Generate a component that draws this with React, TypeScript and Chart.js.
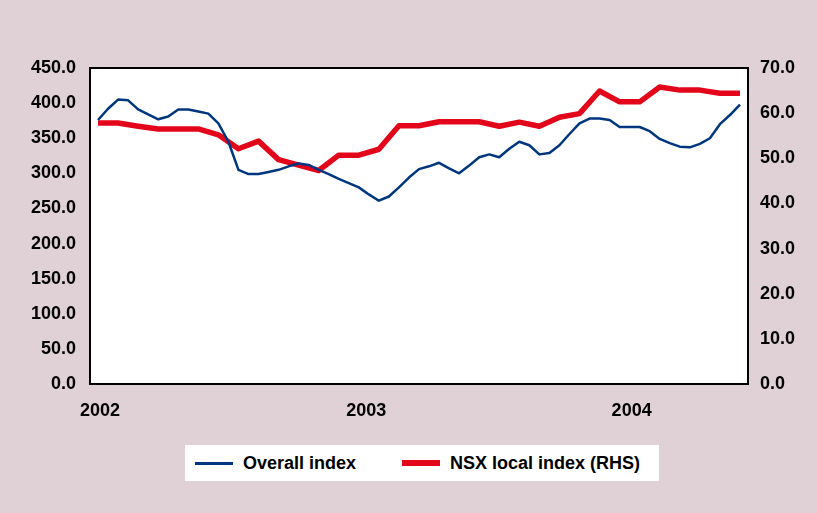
import React, { useEffect, useRef } from "react";
import { Chart, registerables } from "chart.js";

Chart.register(...registerables);

// Overall index (LHS), sampled every 2 weeks
const overallIndex = [
  376, 392, 405, 404, 391, 384, 377, 381, 391, 391,
  388, 385, 371, 345, 305, 299, 299, 302, 305, 310,
  314, 312, 305, 299, 292, 286, 280, 270, 261, 267,
  280, 294, 306, 310, 315, 307, 300, 311, 323, 327,
  323, 335, 345, 340, 327, 329, 340, 356, 371, 378,
  378, 376, 366, 366, 366, 360, 349, 343, 338, 337,
  342, 350, 370, 383, 398,
];
const overallStepWeeks = 2;

// NSX local index (RHS), sampled every 4 weeks
const nsxLocalIndex = [
  57.8, 57.8, 57.1, 56.5, 56.5, 56.5, 55.2, 52.1, 53.8, 49.7,
  48.5, 47.3, 50.7, 50.7, 52.0, 57.2, 57.2, 58.1, 58.1, 58.1,
  57.1, 58.0, 57.1, 59.1, 59.9, 64.9, 62.5, 62.5, 65.8, 65.1,
  65.1, 64.4, 64.4,
];
const nsxStepWeeks = 4;

const yearLabels = ["2002", "2003", "2004"];
const yearTickWeeks = [0.4, 53.5, 106.4];

const leftTicks = { min: 0, max: 450, step: 50 };
const rightTicks = { min: 0, max: 70, step: 10 };

const seriesNames = ["Overall index", "NSX local index (RHS)"];
const BLUE = "#00367f";
const RED = "#e3061b";
const BG = "#dfd1d6";
const FONT_FAMILY = "'Liberation Sans', Arial, sans-serif";

const plotFrame = {
  id: "plotFrame",
  beforeDraw(chart: any) {
    const { ctx, chartArea: a } = chart;
    ctx.save();
    ctx.fillStyle = "#ffffff";
    ctx.fillRect(a.left, a.top, a.right - a.left, a.bottom - a.top);
    ctx.restore();
  },
  afterDraw(chart: any) {
    const { ctx, chartArea: a } = chart;
    ctx.save();
    ctx.strokeStyle = "#000000";
    ctx.lineWidth = 2;
    ctx.strokeRect(a.left, a.top, a.right - a.left, a.bottom - a.top);
    ctx.restore();
  },
};

export default function App() {
  const ref = useRef<HTMLCanvasElement>(null);

  useEffect(() => {
    if (!ref.current) return;
    const tickFont = { family: FONT_FAMILY, size: 18, weight: "bold" as const };
    const chart = new Chart(ref.current, {
      type: "line",
      data: {
        datasets: [
          {
            label: seriesNames[0],
            data: overallIndex.map((v, i) => ({ x: i * overallStepWeeks, y: v })),
            borderColor: BLUE,
            backgroundColor: BLUE,
            borderWidth: 2.5,
            pointRadius: 0,
            tension: 0,
            yAxisID: "y",
            borderJoinStyle: "round",
          },
          {
            label: seriesNames[1],
            data: nsxLocalIndex.map((v, i) => ({ x: i * nsxStepWeeks, y: v })),
            borderColor: RED,
            backgroundColor: RED,
            borderWidth: 5.5,
            pointRadius: 0,
            tension: 0,
            yAxisID: "y1",
            borderJoinStyle: "round",
          },
        ],
      },
      options: {
        animation: false,
        responsive: false,
        events: [],
        layout: { padding: { top: 68, bottom: 89, left: 0, right: 0 } },
        plugins: { legend: { display: false }, tooltip: { enabled: false } },
        scales: {
          x: {
            type: "linear",
            min: -1.6,
            max: 129.6,
            grid: { display: false, drawTicks: false },
            border: { display: false },
            ticks: {
              autoSkip: false,
              maxRotation: 0,
              color: "#000",
              font: tickFont,
              padding: 16,
              callback: (_v: any, i: number) => yearLabels[i],
            },
            afterBuildTicks: (s: any) => {
              s.ticks = yearTickWeeks.map((v) => ({ value: v }));
            },
            afterFit: (s: any) => {
              s.height = 40;
            },
          },
          y: {
            position: "left",
            min: leftTicks.min,
            max: leftTicks.max,
            grid: { display: false, drawTicks: false },
            border: { display: false },
            ticks: {
              stepSize: leftTicks.step,
              color: "#000",
              font: tickFont,
              padding: 14,
              callback: (v: any) => Number(v).toFixed(1),
            },
            afterFit: (s: any) => {
              s.width = 90;
            },
          },
          y1: {
            position: "right",
            min: rightTicks.min,
            max: rightTicks.max,
            grid: { display: false, drawTicks: false },
            border: { display: false },
            ticks: {
              stepSize: rightTicks.step,
              color: "#000",
              font: tickFont,
              padding: 12,
              callback: (v: any) => Number(v).toFixed(1),
            },
            afterFit: (s: any) => {
              s.width = 69;
            },
          },
        },
      },
      plugins: [plotFrame],
    });
    return () => chart.destroy();
  }, []);

  const legendText: React.CSSProperties = {
    fontFamily: FONT_FAMILY,
    fontWeight: "bold",
    fontSize: 18,
    color: "#000",
    whiteSpace: "nowrap",
  };

  return (
    <div
      style={{
        position: "fixed",
        left: 0,
        top: 0,
        width: 817,
        height: 513,
        background: BG,
        overflow: "hidden",
      }}
    >
      <canvas ref={ref} width={817} height={513} style={{ display: "block", width: 817, height: 513 }} />
      <div
        style={{
          position: "absolute",
          left: 185,
          top: 445,
          width: 474,
          height: 36,
          background: "#fff",
        }}
      >
        <div style={{ position: "absolute", left: 10, top: 0, height: 36, display: "flex", alignItems: "center" }}>
          <span style={{ display: "inline-block", width: 38, height: 3, background: BLUE, marginRight: 10 }} />
          <span style={legendText}>{seriesNames[0]}</span>
        </div>
        <div style={{ position: "absolute", left: 217, top: 0, height: 36, display: "flex", alignItems: "center" }}>
          <span style={{ display: "inline-block", width: 38, height: 6, background: RED, marginRight: 10 }} />
          <span style={legendText}>{seriesNames[1]}</span>
        </div>
      </div>
    </div>
  );
}
